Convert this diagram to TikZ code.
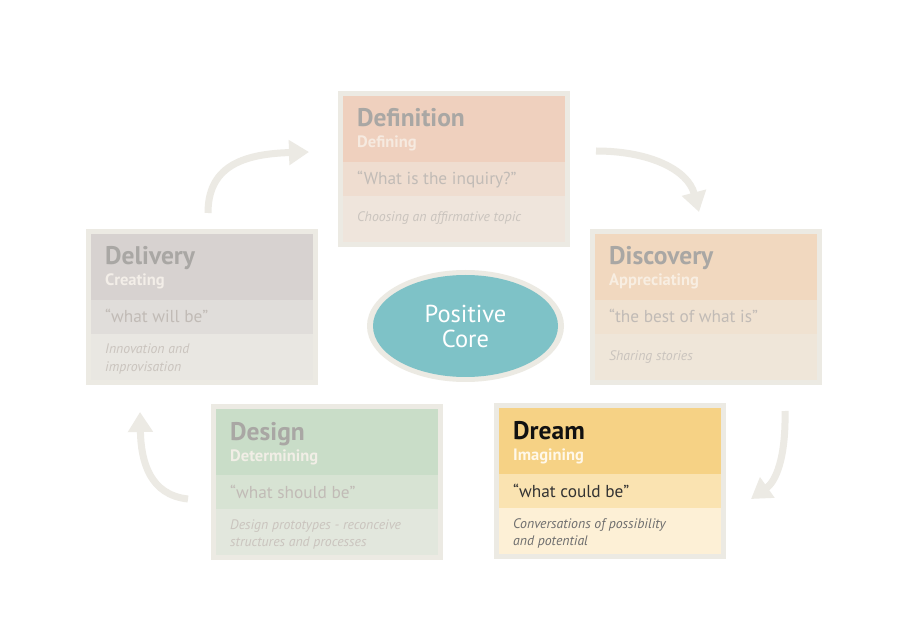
\documentclass[tikz,border=0pt]{standalone}
\usepackage{fontspec}
\setmainfont{PT Sans}
\usetikzlibrary{arrows.meta,shapes.geometric}
\definecolor{frameC}{HTML}{ECEAE3}
\definecolor{arrowC}{HTML}{ECEAE4}
\definecolor{coreC}{HTML}{7EC2C7}
\definecolor{grayT}{HTML}{A9A7A4}
\definecolor{grayQ}{HTML}{C1BBB6}
\definecolor{grayD}{HTML}{CAC4BE}
% Definition
\definecolor{defH}{HTML}{EFD0BE}\definecolor{defQ}{HTML}{EFDDD0}\definecolor{defD}{HTML}{EFE5DC}
\colorlet{defT}{grayT}\definecolor{defS}{HTML}{F6EAE0}\colorlet{defQT}{grayQ}\colorlet{defDT}{grayD}
% Discovery
\definecolor{disH}{HTML}{F1D8BF}\definecolor{disQ}{HTML}{F0E2D1}\definecolor{disD}{HTML}{EFE6D9}
\colorlet{disT}{grayT}\definecolor{disS}{HTML}{F8EEE2}\colorlet{disQT}{grayQ}\colorlet{disDT}{grayD}
% Delivery
\definecolor{delH}{HTML}{D7D2D0}\definecolor{delQ}{HTML}{E0DDDA}\definecolor{delD}{HTML}{E9E7E2}
\colorlet{delT}{grayT}\definecolor{delS}{HTML}{F3EEE8}\colorlet{delQT}{grayQ}\colorlet{delDT}{grayD}
% Design
\definecolor{desH}{HTML}{C9DDC8}\definecolor{desQ}{HTML}{D7E3D3}\definecolor{desD}{HTML}{E2E7DD}
\colorlet{desT}{grayT}\definecolor{desS}{HTML}{F1EEE6}\colorlet{desQT}{grayQ}\colorlet{desDT}{grayD}
% Dream
\definecolor{drmH}{HTML}{F6D285}\definecolor{drmQ}{HTML}{FAE3B1}\definecolor{drmD}{HTML}{FDF0D6}
\definecolor{drmT}{HTML}{111111}\definecolor{drmS}{HTML}{FFF8EA}\definecolor{drmQT}{HTML}{333333}\definecolor{drmDT}{HTML}{6E6E6E}
\tikzset{
  frame/.style={fill=frameC, draw=none, minimum width=232pt, minimum height=156pt, inner sep=0pt},
  txt/.style={anchor=base west, inner sep=0pt},
  ttl/.style={txt, font=\fontsize{25.5}{30}\selectfont\bfseries},
  sub/.style={txt, font=\fontsize{16.5}{19}\selectfont\bfseries},
  quo/.style={txt, font=\fontsize{17.3}{21}\selectfont},
  dsc/.style={txt, font=\fontsize{13.8}{17}\selectfont\itshape},
  cyclearrow/.style={draw=arrowC, line width=7pt, -{Triangle[width=24pt,length=20pt]}}
}
\newcommand\phasebox[9]{%
  \node[frame] (#1) at (#2+116,#3+78) {};
  \fill[#4H] (#2+5,#3+5) rectangle (#2+227,#3+71);
  \fill[#4Q] (#2+5,#3+71) rectangle (#2+227,#3+105);
  \fill[#4D] (#2+5,#3+105) rectangle (#2+227,#3+151);
  \node[ttl, text=#4T] (#1-title) at (#2+19,#3+36) {#5};
  \node[sub, text=#4S] (#1-sub) at (#2+19,#3+57) {#6};
  \node[quo, text=#4QT] (#1-quote) at (#2+19,#3+94) {#7};
  \if\relax\detokenize{#9}\relax
    \node[dsc, text=#4DT] (#1-desc) at (#2+19,#3+131) {#8};
  \else
    \node[dsc, text=#4DT] (#1-desc) at (#2+19,#3+125) {#8};
    \node[dsc, text=#4DT] (#1-desc2) at (#2+19,#3+142) {#9};
  \fi
}
\begin{document}
\begin{tikzpicture}[x=1pt,y=-1pt]
\useasboundingbox (0,0) rectangle (900,636);
\fill[white] (0,0) rectangle (900,636);

\phasebox{definition}{338}{91}{def}{Definition}{Defining}{“What is the inquiry?”}{Choosing an affirmative topic}{}
\phasebox{discovery}{590}{229}{dis}{Discovery}{Appreciating}{“the best of what is”}{Sharing stories}{}
\phasebox{delivery}{86}{229}{del}{Delivery}{Creating}{“what will be”}{Innovation and}{improvisation}
\phasebox{design}{211}{404}{des}{Design}{Determining}{“what should be”}{Design prototypes - reconceive}{structures and processes}
\phasebox{dream}{494}{403}{drm}{Dream}{Imagining}{“what could be”}{Conversations of possibility}{and potential}

% Positive core
\node[ellipse, fill=frameC, minimum width=197pt, minimum height=112pt, inner sep=0pt] (coreframe) at (465.5,326) {};
\node[ellipse, fill=coreC, minimum width=185pt, minimum height=102pt, inner sep=0pt, text=white,
      align=center, font=\fontsize{24.5}{25}\selectfont] (core) at (465.5,326) {Positive\\Core};

% cycle arrows
\coordinate (a1s) at (208,213);
\coordinate (a1e) at (309,152);
\coordinate (a2s) at (596,151);
\coordinate (a2e) at (699,212);
\coordinate (a3s) at (785,411);
\coordinate (a3e) at (751,499);
\coordinate (a4s) at (188,499);
\coordinate (a4e) at (140,412);
\draw[cyclearrow] (a1s) .. controls (208,168) and (240,154) .. (a1e);
\draw[cyclearrow] (a2s) .. controls (650,151) and (688,170) .. (a2e);
\draw[cyclearrow] (a3s) .. controls (786,460) and (775,482) .. (a3e);
\draw[cyclearrow] (a4s) .. controls (150,495) and (141,462) .. (a4e);
\end{tikzpicture}
\end{document}
